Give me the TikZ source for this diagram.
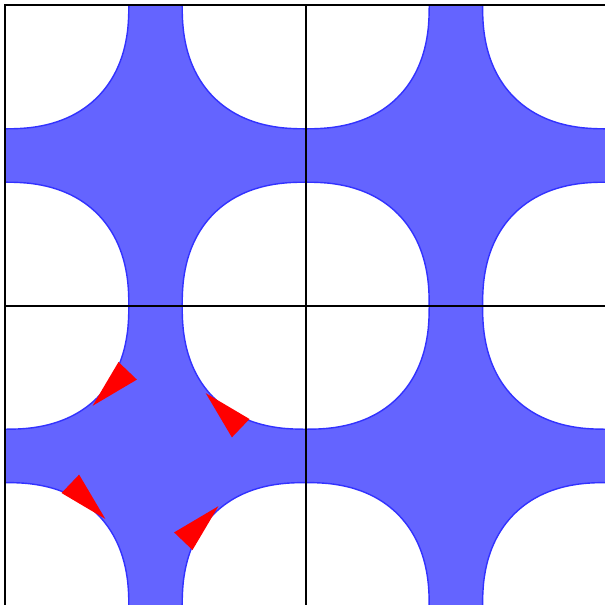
\documentclass[tikz,border=0pt]{standalone}
\usepackage{tikz}
\definecolor{bfill}{RGB}{100,100,255}
\definecolor{bline}{RGB}{50,50,255}
\tikzset{
  cellfill/.style={fill=bfill},
  hole/.style={fill=white, draw=bline, line width=0.8pt},
  marker/.style={fill=red},
  gridline/.style={draw=black, line width=1.3pt}
}
\begin{document}
\begin{tikzpicture}[x=0.02cm,y=-0.02cm]
\useasboundingbox (0,0) rectangle (605,605);
\begin{scope}
  \clip (5.3,5.3) rectangle (607.5,607.5);
  \fill[cellfill] (5.3,5.3) rectangle (607.5,607.5);
  \foreach \cx in {5.3,305.7,606.1}{
    \foreach \cy in {5.3,305.7,606.1}{
      \draw[hole,shift={(\cx,\cy)}] plot[domain=0.5:360.5,samples=145,smooth]
        ({123.5*sign(cos(\x))*abs(cos(\x))^0.85},{123.5*sign(sin(\x))*abs(sin(\x))^0.85}) -- cycle;
    }
  }
\end{scope}
% red markers
\fill[marker] (118.5,362) -- (136.9,379.6) -- (92.6,405.8) -- cycle;
\fill[marker] (249.5,419) -- (231.9,437.4) -- (205.7,393.1) -- cycle;
\fill[marker] (192.5,550) -- (174.1,532.4) -- (218.4,506.2) -- cycle;
\fill[marker] (61.5,493) -- (79.1,474.6) -- (105.3,518.9) -- cycle;
% grid
\draw[gridline] (5.3,5.3) rectangle (608.5,608.5);
\draw[gridline] (305.7,5.3) -- (305.7,608.5);
\draw[gridline] (5.3,305.7) -- (608.5,305.7);
\end{tikzpicture}
\end{document}
